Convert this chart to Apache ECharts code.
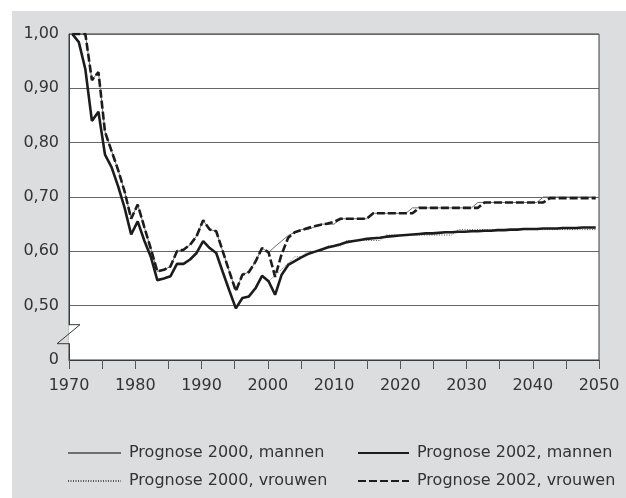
<!DOCTYPE html>
<html>
<head>
<meta charset="utf-8">
<script src="https://cdn.jsdelivr.net/npm/echarts@6/dist/echarts.min.js"></script>
<style>
html,body{margin:0;padding:0;background:#ffffff;}
#chart{width:626px;height:498px;}
</style>
</head>
<body>
<div id="chart"></div>
<script>
// ---- data ----
const years = [];
for (let y = 1970; y <= 2050; y++) years.push(String(y));

// observed part 1970-2000 (shared by both prognoses)
const histUpper = [1.00,1.00,1.00,0.915,0.93,0.82,0.785,0.75,0.71,0.66,
  0.686,0.645,0.605,0.563,0.566,0.572,0.60,0.603,0.612,0.628,
  0.657,0.64,0.637,0.60,0.563,0.527,0.557,0.562,0.581,0.606,
  0.598];
const histLower = [1.00,0.985,0.935,0.84,0.857,0.778,0.755,0.72,0.68,0.631,
  0.655,0.62,0.59,0.547,0.55,0.554,0.577,0.577,0.585,0.597,
  0.619,0.606,0.597,0.562,0.528,0.495,0.514,0.517,0.532,0.555,
  0.545];

// prognosis part 2001-2050
const prog2000Mannen = [0.609,0.619,0.629,0.635,0.64,0.64,0.645,0.65,0.65,0.65,
  0.66,0.66,0.66,0.66,0.66,
  0.67,0.67,0.67,0.67,0.67,0.67,
  0.68,0.68,0.68,0.68,0.68,0.68,0.68,0.68,0.68,0.68,
  0.69,0.69,0.69,0.69,0.69,0.69,0.69,0.69,0.69,0.69,
  0.70,0.70,0.70,0.70,0.70,0.70,0.70,0.70,0.70];
const prog2002Vrouwen = [0.553,0.595,0.625,0.635,0.639,0.643,0.646,0.649,0.651,0.654,
  0.66,0.66,0.66,0.66,0.66,
  0.67,0.67,0.67,0.67,0.67,0.67,0.67,
  0.68,0.68,0.68,0.68,0.68,0.68,0.68,0.68,0.68,0.68,
  0.69,0.69,0.69,0.69,0.69,0.69,0.69,0.69,0.69,0.69,
  0.698,0.698,0.698,0.698,0.698,0.698,0.698,0.698];
const prog2002Mannen = [0.52,0.557,0.575,0.582,0.589,0.595,0.599,0.603,0.607,0.610,
  0.613,0.617,0.619,0.621,0.623,0.624,0.625,0.627,0.628,0.629,
  0.630,0.631,0.632,0.633,0.633,0.634,0.635,0.635,0.636,0.636,
  0.637,0.637,0.638,0.638,0.639,0.639,0.640,0.640,0.641,0.641,
  0.641,0.642,0.642,0.642,0.643,0.643,0.643,0.644,0.644,0.644];
const prog2000Vrouwen = [0.556,0.567,0.578,0.59,0.59,0.60,0.60,0.60,0.61,0.61,
  0.61,
  0.62,0.62,0.62,0.62,0.62,0.62,
  0.63,0.63,0.63,0.63,0.63,0.63,0.63,0.63,0.63,0.63,0.63,
  0.64,0.64,0.64,0.64,0.64,0.64,0.64,0.64,0.64,0.64,0.64,
  0.64,0.64,0.64,0.64,0.64,0.64,0.64,0.64,0.64,0.64,0.64];

const seriesNames = ['Prognose 2000, mannen','Prognose 2002, mannen','Prognose 2000, vrouwen','Prognose 2002, vrouwen'];
const yTickValues = [0.4,0.5,0.6,0.7,0.8,0.9,1.0];
const yTickLabels = ['0','0,50','0,60','0,70','0,80','0,90','1,00'];
const xLabelYears = [1970,1980,1990,2000,2010,2020,2030,2040,2050];

// ---- chart ----
const FONT = '"DejaVu Sans", sans-serif';
const FS = 16;
const TXT = '#333333';
const chart = echarts.init(document.getElementById('chart'), null, {renderer:'canvas'});

const legendCommon = {
  orient: 'vertical', top: 445, itemGap: 12, padding: 0,
  itemHeight: 10, selectedMode: false,
  itemStyle: {opacity: 0, borderWidth: 0},
  textStyle: {color: TXT, fontSize: FS, fontFamily: FONT, padding: [0,0,0,3]}
};

const option = {
  animation: false,
  backgroundColor: '#ffffff',
  textStyle: {fontFamily: FONT},
  graphic: [{
    type: 'rect', z: -10, silent: true,
    shape: {x: 12, y: 11, width: 614, height: 487},
    style: {fill: '#dcdddf'}
  }],
  grid: {
    left: 69, right: 27, top: 34, bottom: 138,
    show: true, backgroundColor: '#ffffff', borderColor: '#3a3a3a', borderWidth: 1
  },
  xAxis: [{
    type: 'value', min: 1970, max: 2050, interval: 5,
    axisLine: {show: true, lineStyle: {color: '#3a3a3a', width: 1}},
    axisTick: {show: true, length: 9, lineStyle: {color: '#555', width: 1}},
    splitLine: {show: false},
    axisLabel: {
      margin: 18, color: TXT, fontSize: FS, fontFamily: FONT,
      formatter: function (v) { return xLabelYears.indexOf(v) >= 0 ? String(v) : ''; }
    }
  }, {
    type: 'category', data: years, boundaryGap: true, show: false, position: 'bottom'
  }],
  yAxis: {
    type: 'value', min: 0.4, max: 1.0, interval: 0.1,
    axisLine: {show: true, lineStyle: {color: '#3a3a3a', width: 1}},
    axisTick: {show: false},
    splitLine: {show: true, lineStyle: {color: '#666666', width: 1}},
    axisLabel: {
      margin: 10, color: TXT, fontSize: FS, fontFamily: FONT,
      formatter: function (v) {
        for (let i = 0; i < yTickValues.length; i++) {
          if (Math.abs(v - yTickValues[i]) < 1e-6) return yTickLabels[i];
        }
        return '';
      }
    }
  },
  legend: [Object.assign({}, legendCommon, {
    data: [seriesNames[0], seriesNames[2]], left: 67, itemWidth: 53
  }), Object.assign({}, legendCommon, {
    data: [seriesNames[1], seriesNames[3]], left: 357, itemWidth: 51
  })],
  series: [{
    name: seriesNames[0], type: 'line', xAxisIndex: 1, symbol: 'none', z: 2,
    data: histUpper.concat(prog2000Mannen),
    lineStyle: {color: '#6e6e6e', width: 1},
    itemStyle: {color: '#6e6e6e'}
  }, {
    name: seriesNames[2], type: 'line', xAxisIndex: 1, symbol: 'none', z: 2,
    data: histLower.concat(prog2000Vrouwen),
    lineStyle: {color: '#555555', width: 1, type: [1, 1.5]},
    itemStyle: {color: '#555555'}
  }, {
    name: seriesNames[1], type: 'line', xAxisIndex: 1, symbol: 'none', z: 3,
    data: histLower.concat(prog2002Mannen),
    lineStyle: {color: '#1c1c1c', width: 2.6},
    itemStyle: {color: '#1c1c1c'}
  }, {
    name: seriesNames[3], type: 'line', xAxisIndex: 1, symbol: 'none', z: 3,
    data: histUpper.concat(prog2002Vrouwen),
    lineStyle: {color: '#1c1c1c', width: 2.6, type: [8, 3]},
    itemStyle: {color: '#1c1c1c'}
  }]
};
chart.setOption(option);

// axis break mark on the y axis between 0 and 0,50
const x0 = chart.convertToPixel({xAxisIndex: 0}, 1970);
const yA = chart.convertToPixel({yAxisIndex: 0}, 0.5);
const yB = chart.convertToPixel({yAxisIndex: 0}, 0.4);
const yTop = yA + (yB - yA) * 0.35;
const yBot = yA + (yB - yA) * 0.70;
option.graphic = option.graphic.concat([{
  type: 'rect', z: 50, silent: true,
  shape: {x: x0 - 0.5, y: yTop + 0.5, width: 1.5, height: yBot - yTop - 1},
  style: {fill: '#ffffff'}
}, {
  type: 'polyline', z: 51, silent: true,
  shape: {points: [[x0, yTop], [x0 + 11, yTop], [x0 - 12, yBot], [x0, yBot]]},
  style: {stroke: '#3a3a3a', lineWidth: 1, fill: null}
}]);
chart.setOption({graphic: option.graphic});
</script>
</body>
</html>
